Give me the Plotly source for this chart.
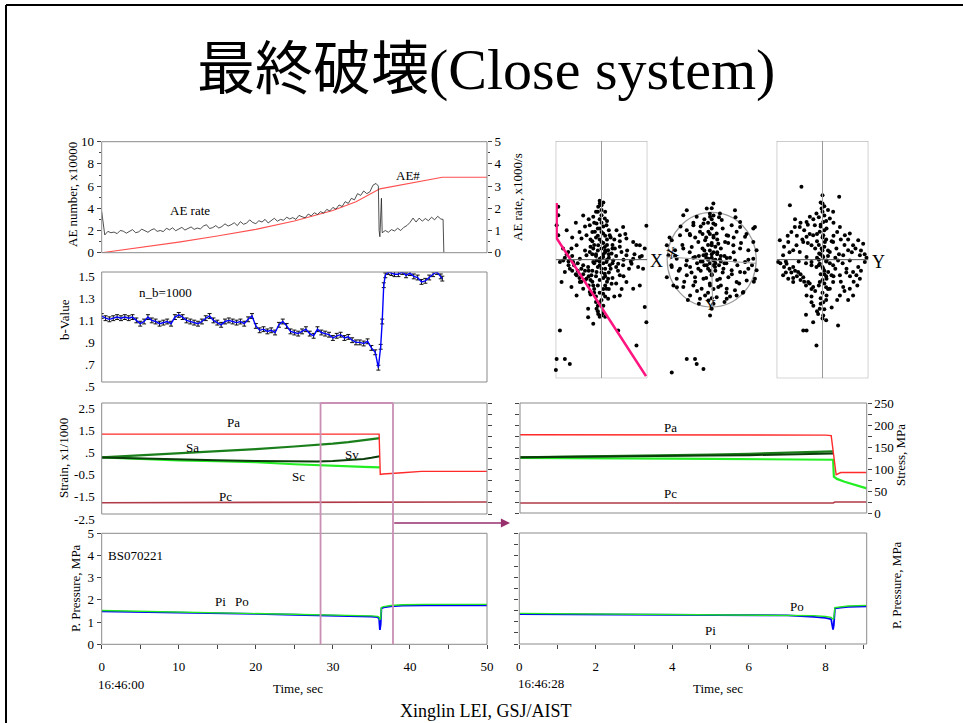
import plotly.graph_objects as go

W, H = 963, 723
SERIF = "Liberation Serif, Times New Roman, serif"
TITLE_FONT = "Liberation Serif, Noto Sans CJK JP, serif"


def px(x):
    return x / W


def py(y):
    return 1 - y / H


# ---------------- AE activity (time in s from 16:46:00) ----------------
ae_rate_grid = [round(0.4 * i, 1) for i in range(90)]
ae_rate_main = [
    1.85, 0.80, 0.96, 0.90, 0.93, 0.86, 1.00, 0.97, 0.88, 0.95,
    1.04, 0.90, 0.94, 1.06, 0.99, 0.92, 1.02, 1.08, 0.96, 1.00,
    0.95, 1.10, 1.03, 1.12, 0.99, 1.05, 1.14, 1.02, 1.08, 1.16,
    1.05, 1.11, 1.07, 1.20, 1.26, 1.09, 1.13, 1.22, 1.11, 1.18,
    1.30, 1.20, 1.26, 1.35, 1.22, 1.40, 1.28, 1.33, 1.48, 1.36,
    1.31, 1.44, 1.38, 1.50, 1.34, 1.46, 1.55, 1.42, 1.50, 1.46,
    1.60, 1.52, 1.58, 1.50, 1.68, 1.62, 1.57, 1.74, 1.66, 1.80,
    1.72, 1.85, 1.78, 1.95, 1.88, 2.04, 1.96, 2.15, 2.08, 2.30,
    2.22, 2.45, 2.38, 2.66, 2.58, 2.78, 2.66, 2.74, 3.04, 3.12,
]
ae_rate_tail_t = [35.9, 36.0, 36.1, 36.3, 36.4, 36.8, 37.2, 37.6, 38.0, 38.4,
                  38.8, 39.2, 39.6, 40.0, 40.4, 40.8, 41.2, 41.6, 42.0, 42.4,
                  42.8, 43.2, 43.6, 44.0, 44.3, 44.4]
ae_rate_tail = [3.00, 1.00, 0.72, 2.45, 0.90, 1.00, 0.92, 1.04, 0.98, 1.10,
                1.00, 1.14, 1.22, 1.36, 1.56, 1.38, 1.56, 1.42, 1.54, 1.44,
                1.60, 1.48, 1.64, 1.52, 1.50, 0.00]

ae_count_t = [0, 5, 10, 15, 20, 25, 30, 33, 35.5, 36.1, 44.2, 50]
ae_count = [0, 0.45, 0.95, 1.5, 2.1, 2.85, 3.8, 4.6, 5.55, 5.75, 6.8, 6.8]

# ---------------- b-value (n_b = 1000) ----------------
b_grid = [0.5 * i for i in range(72)]
b_main = [
    1.10, 1.08, 1.07, 1.08, 1.09, 1.08, 1.09, 1.08, 1.09, 1.06,
    1.03, 1.05, 1.09, 1.06, 1.05, 1.03, 1.04, 1.05, 1.03, 1.09,
    1.11, 1.09, 1.06, 1.05, 1.04, 1.03, 1.05, 1.08, 1.10, 1.06,
    1.04, 1.02, 1.05, 1.06, 1.05, 1.04, 1.05, 1.03, 1.07, 1.10,
    1.01, 0.97, 0.98, 0.96, 0.97, 0.95, 1.02, 1.05, 1.01, 0.96,
    0.95, 0.94, 0.96, 0.98, 0.94, 0.92, 0.98, 0.95, 0.94, 0.93,
    0.90, 0.92, 0.93, 0.90, 0.91, 0.88, 0.86, 0.86, 0.85, 0.87,
    0.81, 0.77,
]
b_tail_t = [35.9, 36.2, 36.4, 36.6, 36.8, 37.2, 37.6, 38.0, 38.5, 39.0,
            39.5, 40.0, 40.5, 41.0, 41.5, 42.0, 42.5, 43.0, 43.5, 44.0, 44.2]
b_tail = [0.63, 0.82, 1.05, 1.38, 1.47, 1.50, 1.49, 1.48, 1.48, 1.50,
          1.47, 1.49, 1.46, 1.45, 1.41, 1.42, 1.45, 1.48, 1.50, 1.46, 1.44]
B_ERR = 0.022

# ---------------- stresses (MPa) and strains (x1/1000), full record ----------------
pa_t = [0, 10, 20, 30, 36.0, 36.15, 36.5, 39.0, 41.5, 50]
pa = [180, 180, 180, 180, 180, 89, 90, 93, 96, 96]
pc_t = [0, 36.1, 36.3, 50]
pc = [25.5, 25.5, 27, 27]

strain_t = [0, 5, 10, 15, 20, 25, 28, 30, 32, 34, 35, 36.1]
sa = [0.05, 0.14, 0.22, 0.31, 0.42, 0.54, 0.61, 0.67, 0.74, 0.83, 0.88, 0.92]
sv = [0.05, 0.0, -0.05, -0.08, -0.11, -0.13, -0.13, -0.11, -0.07, -0.02, 0.03, 0.10]
sc = [0.05, -0.03, -0.08, -0.12, -0.17, -0.26, -0.31, -0.34, -0.36, -0.38, -0.39, -0.40]

# ---------------- pore pressure (MPa), full record ----------------
pp_t = [0, 5, 10, 15, 20, 25, 30, 33, 35, 35.8, 36.0, 36.1, 36.2, 36.3, 36.6,
        37.5, 39, 42, 45, 50]
pi_ = [1.48, 1.46, 1.43, 1.40, 1.37, 1.33, 1.30, 1.28, 1.25, 1.22, 1.15, 0.65,
       0.90, 1.62, 1.66, 1.71, 1.74, 1.76, 1.77, 1.76]
po = [1.52, 1.49, 1.46, 1.43, 1.40, 1.36, 1.33, 1.31, 1.28, 1.26, 1.22, 1.12,
      1.15, 1.66, 1.70, 1.75, 1.78, 1.80, 1.80, 1.80]

# ---------------- zoomed window (s from 16:46:28) ----------------
zpa_t = [0, 4, 8.0, 8.15, 8.28, 8.4, 9.08]
zpa = [178, 178, 177, 176, 87, 92, 92]
zpc_t = [0, 8.2, 8.25, 9.08]
zpc = [22.7, 22.7, 25, 25]

zs_t = [0, 1, 2, 3, 4, 5, 6, 7, 8, 8.2]
zsa = [0.03, 0.05, 0.07, 0.10, 0.12, 0.15, 0.19, 0.23, 0.29, 0.30]
zsv = [0.03, 0.04, 0.05, 0.07, 0.09, 0.11, 0.13, 0.15, 0.18, 0.20]
zsc_t = [0, 1, 2, 3, 4, 5, 6, 7, 8, 8.2, 8.22, 8.3, 8.5, 8.75, 9.08]
zsc = [0.0, 0.0, -0.01, -0.02, -0.03, -0.04, -0.05, -0.06, -0.08, -0.08,
       -0.85, -0.95, -1.08, -1.20, -1.38]

zpp_t = [0, 1, 2, 3, 4, 5, 6, 7, 7.7, 8.0, 8.15, 8.2, 8.22, 8.25, 8.4, 8.6, 9.08]
zpi = [1.35, 1.34, 1.33, 1.32, 1.31, 1.31, 1.30, 1.29, 1.22, 1.18, 1.12, 0.65,
       0.85, 1.60, 1.64, 1.67, 1.70]
zpo = [1.38, 1.37, 1.36, 1.35, 1.34, 1.34, 1.33, 1.32, 1.28, 1.24, 1.20, 1.12,
       1.15, 1.64, 1.68, 1.71, 1.74]

window_t = [28.4, 37.8]

# ---------------- AE hypocentres (mm): side view X, plan view, side view Y ----------------
side_x = [
    (-25.5, 39.6), (-28.5, 33.8), (-29.6, 19.6), (-29.1, 16.9), (-28.2, 13.3), (-27.3, -14),
    (-22.7, -38.5), (-24.5, -54), (-20, -54), (-17.3, -56.7), (-30, -61), (-24.9, -60),
    (-23.6, 28.7), (-23.6, 24.2), (-24.5, 18.7), (-25.5, 15.1), (-23.6, 13.3), (-26.4, 11.5),
    (-0.9, 30.5), (0, 29.6), (-1.8, 28.7), (-4.5, 23.3), (0, 24.2), (1.8, 22.4), (-2.7, 19.6),
    (-6.4, 18.7), (2.7, 18.7), (-0.9, 16.9), (-3.6, 15.1), (0.9, 14.2), (4.5, 13.3),
    (-8.2, 13.3), (-10.9, 11.5), (8.2, 16), (11.8, 17.8), (10, 13.3), (13.6, 11.5),
    (17.3, 9.6), (20.9, 7.8), (24.5, 18.4), (23.6, 6), (-13.6, 7.8), (-16.4, 6), (-18.2, 4.2),
    (-20.9, -0.4), (-22.7, -1.3), (-15.5, -1.3), (-11.8, 0.5), (-8.2, 2.4), (-6.4, 4.2),
    (-4.5, 6), (-1.8, 7.8), (0, 9.6), (1.8, 6.9), (3.6, 5.1), (5.5, 3.3), (7.3, 6),
    (10.9, 4.2), (13.6, 2.4), (17.3, 0.5), (20.9, 1.5), (-10, -3.1), (-7.3, -4), (-4.5, -1.3),
    (-2.7, -0.4), (-0.9, 0.5), (0.9, 1.5), (2.7, -1.3), (4.5, -3.1), (6.4, -0.4), (9.1, -2.2),
    (11.8, -3.1), (16.4, -2.2), (20, -4), (22.7, -4.9), (-17.3, -4.9), (-20, -6.7),
    (-13.6, -8.5), (-11.8, -12.2), (-8.2, -10.4), (-5.5, -8.5), (-2.7, -6.7), (0, -4.9),
    (1.8, -7.6), (3.6, -10.4), (5.5, -13.1), (2.7, -15.8), (0.9, -18.5), (3.6, -21.3),
    (-0.9, -23.1), (-2.7, -26.7), (-1.8, -29.5), (0, -30.4), (-6.4, -17.6), (-10, -15.8),
    (10, -8.5), (13.6, -12.2), (17.3, -15.8), (20.9, -14), (10, -19.5), (-4.5, -14),
    (-7.3, -26.7), (-16.4, -14.9), (23.6, -25.8), (24.5, -34), (19.1, -46.7), (9.1, -38.5),
    (-4.5, -34.9), (-7.3, -31.3), (-28.2, -2.2), (-26.4, -4), (-21.8, -12.2), (-13.6, -19.5),
    (-3, 3), (2, 4), (-1, -3), (4, 1), (-5, 10), (3, 11), (-2, 13), (6, 8), (-7, -6),
    (1, -10), (-4, -18), (5, -5), (-9, 5), (8, -4), (0, 20), (-2, 26), (2, -14), (-6, -11),
    # dense streak along the centre line
    (-1, 32), (1, 31), (0, 27), (-3, 26), (2, 26), (-1, 22), (3, 21), (-4, 20), (1, 18),
    (-2, 17), (4, 16), (-5, 15), (0, 15), (2, 13), (-3, 12), (5, 12), (-1, 11), (1, 9),
    (-4, 8), (3, 8), (-6, 7), (0, 6), (6, 6), (-2, 5), (2, 5), (-5, 3), (1, 3), (4, 3),
    (-3, 2), (0, 1), (3, 0), (-1, -1), (1, -2), (-4, -2), (6, -2), (-2, -4), (2, -5),
    (-5, -6), (0, -7), (4, -7), (-3, -9), (2, -9), (-1, -11), (3, -12), (-2, -14), (1, -16),
    (4, -16), (-1, -18), (2, -20), (0, -22), (-3, -23), (1, -25), (-2, -28), (1, -29),
    (-1, -31), (2, -31),
    # band along the fault trace
    (-21, 6), (-19, 3), (-20, 1), (-18, -1), (-16, 2), (-15, -3), (-13, -2), (-13, -6),
    (-11, -5), (-10, -8), (-9, -11), (-7, -9), (-7, -14), (-5, -12), (-4, -16), (-6, -19),
    (-3, -20), (-2, -25), (-12, -10), (-16, -6), (-18, -3), (-9, -6), (-11, -12), (-14, -8),
    # scatter to the right of the centre line
    (8, 2), (10, 7), (12, 0), (14, 5), (16, -1), (18, 3), (19, 8), (22, 2), (9, -6),
    (12, -9), (15, -5), (7, 11), (10, 10), (13, 14), (6, -10), (8, -13), (11, -16), (7, -20),
    (-12, 15), (-9, 18), (-14, 20), (-7, 22), (-10, 24), (-16, 12), (-19, 16), (-6, 11),
]
plan = [
    (-13.6, 26.9), (-2.7, 27.8), (0.9, 30.5), (12.7, 26.9), (-8.2, 23.3), (-0.9, 23.3),
    (4.5, 25.1), (-13.6, 16), (-10, 18.7), (-4.5, 19.6), (0.9, 19.6), (5.5, 21.5),
    (10.9, 18.7), (15.5, 20.5), (23.6, 17.8), (-17.3, 13.3), (-11.8, 13.3), (-6.4, 15.1),
    (-1.8, 15.1), (2.7, 14.2), (8.2, 13.3), (13.6, 15.1), (18.2, 12.4), (22.7, 9.6),
    (26.4, 11.5), (30, 7.8), (-21.8, 10.5), (-24.5, 7.8), (-20, 5.1), (-15.5, 6),
    (-10.9, 6.9), (-7.3, 9.6), (-3.6, 10.5), (0, 7.8), (3.6, 8.7), (7.3, 9.6), (11.8, 7.8),
    (15.5, 6), (20, 5.1), (24.5, 5.1), (31.8, 5.1), (-23.6, 2.4), (-19.1, 0.5), (-13.6, -0.4),
    (-9.1, 1.5), (-4.5, 2.4), (-1.8, 0.5), (0.9, -0.4), (4.5, 0.2), (8.2, 0.9), (12.7, -0.4),
    (18.2, -1.3), (22.7, 0.5), (27.3, -2.2), (-21.8, -4), (-17.3, -4.9), (-11.8, -4),
    (-7.3, -4.9), (-2.7, -3.1), (1.8, -4), (6.4, -4.9), (10.9, -5.8), (15.5, -6.7), (20, -4.9),
    (24.5, -5.8), (-24.5, -9.5), (-19.1, -10.4), (-13.6, -8.5), (-9.1, -9.5), (-4.5, -10.4),
    (0, -8.5), (4.5, -10.4), (9.1, -9.5), (13.6, -12.2), (19.1, -11.3), (23.6, -10.4),
    (-20.9, -14), (-15.5, -14.9), (-10, -14), (-5.5, -15.8), (-0.9, -14), (3.6, -14.9),
    (8.2, -15.8), (12.7, -16.7), (17.3, -17.6), (-11.8, -19.5), (-6.4, -21.3), (-1.8, -22.2),
    (2.7, -20.4), (8.2, -21.3), (13.6, -19.5), (0, -26.7), (-0.9, -30.4), (-13.6, -54),
    (-9.1, -54), (-8.2, -56.7), (-4.5, -59.5), (-21.8, -61.3), (-3.6, -19.5), (-15.5, 24.2),
    (15.5, 17.8), (22.7, 16.9), (0, 3), (-3, 1), (2, -2), (5, 2), (-6, -1), (3, 4), (-1, -6),
    (7, -2), (-4, 5), (1, 12),
    # dense core and the northward streak
    (0, 28), (-1, 25), (1, 24), (0, 22), (-2, 20), (2, 19), (0, 17), (-1, 14), (1, 13),
    (-3, 12), (3, 11), (0, 9), (-2, 8), (2, 7), (-5, 6), (5, 6), (-1, 5), (1, 4), (-3, 3),
    (3, 3), (-7, 2), (7, 2), (0, 1), (-2, 0), (2, 0), (-5, -1), (5, -1), (-1, -2), (1, -3),
    (-4, -3), (4, -3), (-8, -2), (8, -2), (-10, 1), (10, 1), (-2, -5), (2, -6), (-6, -6),
    (6, -7), (0, -8), (-3, -10), (3, -11), (-1, -13), (1, -16), (-2, -18), (0, -21), (1, -24),
    (-12, 4), (12, 4), (-14, -3), (14, -3), (-11, -7), (11, -8), (-16, 8), (16, 9), (-9, 12),
    (9, 13), (-18, -6), (18, -7), (-6, 18), (6, 17), (-20, 2), (20, 0), (-15, -12), (15, -13),
    (-8, -17), (8, -18), (-4, 22), (4, 23), (-22, -3), (22, -3), (-12, 14), (12, 12),
    (-17, 18), (17, -18), (-7, -24), (7, -23), (19, 14), (-19, -15), (-10, 20), (10, -20),
    (13, 23), (-13, -22), (-23, 12), (23, -12), (5, -14), (-5, 14), (-9, -12), (9, 9),
]
side_y = [
    (-11.5, 39.6), (9.1, 34.2), (-17.8, 29.6), (0, 30.5), (-0.5, 27.8), (-3.3, 25.1),
    (-6.9, 23.3), (-8.7, 20.5), (-12.4, 17.8), (-15.1, 17.8), (0.4, 20.5), (2.2, 16.9),
    (-1.5, 15.1), (-5.1, 13.3), (-8.7, 12.4), (-10.5, 9.6), (-14.2, 7.8), (-18.7, 9.6),
    (-23.3, 10.5), (-25.1, 6), (-21.5, 2.4), (-24.2, -1.3), (-19.6, -2.2), (-16, -4),
    (-13.3, -6.7), (-10.5, -9.5), (-7.8, -12.2), (-5.1, -14.9), (-16, -12.2), (-18.7, -10.4),
    (-21.5, -8.5), (0.4, 13.3), (1.3, 9.6), (-0.5, 6), (-1.8, 3.3), (0.4, 1.5), (2.2, -0.4),
    (-1.5, -2.2), (-3.3, -4), (0.4, -4.9), (3.1, -6.7), (5.8, -3.1), (8.5, -0.4), (11.3, 2.4),
    (14, 5.1), (16.7, 7.8), (19.5, 10.5), (22.2, 8.7), (25.8, 7.8), (14.9, 14.2), (9.5, 17.8),
    (12.2, 13.3), (5.8, 9.6), (7.6, 6), (4, 4.2), (20.4, 2.4), (23.1, -1.3), (19.5, -4),
    (16.7, -6.7), (13.1, -4.9), (9.5, -8.5), (5.8, -12.2), (4, -15.8), (2.2, -19.5),
    (0.4, -23.1), (-1.5, -26.7), (-2.4, -29.5), (0.4, -30.4), (-5.1, -34), (-8.7, -38.5),
    (-10.5, -38.5), (-3.3, -46.7), (8.5, -35.8), (16.7, -19.5), (14.9, -15.8), (11.3, -14.9),
    (9.5, -19.5), (20.4, -10.4), (-8.7, -19.5), (-6, -23.1), (4, 22.4), (5.8, 26),
    (-4.2, 18.7), (-6, 7.8), (-12.4, 4.2), (-16, 5.1), (-8.7, 1.5), (-6, -1.3), (14.9, -0.4),
    (18.5, -8.5), (2.2, -10.4), (4.9, -8.5), (-1.5, -12.2), (26.7, 7.8), (0, 5), (-2, 0),
    (1, -8), (3, 2), (-3, 10), (2, -15), (-1, 18), (1, 24),
    # dense streak along the centre line
    (0, 35), (-1, 31), (1, 29), (0, 26), (-2, 23), (2, 21), (-1, 19), (1, 16), (-3, 14),
    (0, 12), (2, 11), (-2, 8), (1, 7), (3, 5), (-1, 3), (0, 2), (-3, 1), (2, -1), (4, -2),
    (-2, -3), (0, -4), (1, -6), (-1, -8), (2, -9), (0, -11), (-2, -14), (1, -13), (3, -16),
    (0, -18), (-1, -21), (2, -22), (-1, -24), (1, -27), (-3, -28), (0, -32), (2, -33),
    # lower-left band
    (-23, -2), (-21, -4), (-20, -1), (-18, -5), (-17, -7), (-15, -6), (-14, -9), (-12, -8),
    (-12, -11), (-10, -12), (-9, -14), (-7, -13), (-6, -16), (-4, -17), (-20, -7), (-16, -10),
    # upper-left streak
    (-19, 13), (-17, 15), (-14, 13), (-12, 20), (-10, 16), (-8, 19), (-11, 11), (-7, 14),
    (-5, 22), (-15, 22), (-21, 7), (-18, 4),
    # right-hand scatter
    (6, 13), (8, 15), (10, 11), (12, 8), (14, 11), (16, 4), (18, 6), (21, 5), (23, 3),
    (9, 3), (11, -2), (13, -7), (15, -9), (17, -12), (19, -14), (7, -5), (6, -9), (10, -12),
    (12, -17), (8, -22), (5, -26), (14, -22), (21, -6), (24, 1), (6, 20), (3, 27), (-6, -3),
    (-9, -2), (-13, -1), (-4, 6), (-8, 9), (7, 1), (5, 10), (-6, -20), (-5, -25), (-9, -30),
]
fault_trace = [(-24.5, 30.8), (-24.5, 11.7), (24.3, -63.3)]

# ---------------- colours ----------------
RED = "#ff2a2a"
PC_RED = "#b03a48"
SA_GREEN = "#1a7f1a"
SV_GREEN = "#0b3d0b"
SC_GREEN = "#22ee22"
BLUE = "#0000ff"
PO_GREEN = "#22e622"
FRAME = "#8a8a8a"
WINDOW = "#c98fb5"

fig = go.Figure()


def line(x, y, xa, ya, color, width=1.0):
    fig.add_trace(go.Scatter(x=x, y=y, xaxis=xa, yaxis=ya, mode="lines",
                             line=dict(color=color, width=width), showlegend=False,
                             hoverinfo="skip"))


# AE panel
line(ae_count_t, ae_count, "x", "y", "#ff5050", 1.1)
line(ae_rate_grid + ae_rate_tail_t, ae_rate_main + ae_rate_tail, "x", "y2", "#222222", 0.8)

# b-value panel
b_t = b_grid + b_tail_t
b_v = b_main + b_tail
fig.add_trace(go.Scatter(x=b_t, y=b_v, xaxis="x2", yaxis="y3", mode="lines",
                         line=dict(color=BLUE, width=1.4), showlegend=False,
                         error_y=dict(type="constant", value=B_ERR, color="#111111",
                                      thickness=1, width=2)))

# strain / stress, full record
line(pa_t, pa, "x3", "y5", RED, 1.4)
line(pc_t, pc, "x3", "y5", PC_RED, 1.6)
line(strain_t, sc, "x3", "y4", SC_GREEN, 2.2)
line(strain_t, sa, "x3", "y4", SA_GREEN, 2.2)
line(strain_t, sv, "x3", "y4", SV_GREEN, 2.0)

# pore pressure, full record
line(pp_t, pi_, "x4", "y6", BLUE, 1.8)
line(pp_t, po, "x4", "y6", PO_GREEN, 1.4)

# strain / stress, zoomed window
line(zpa_t, zpa, "x5", "y9", RED, 1.4)
line(zpc_t, zpc, "x5", "y9", PC_RED, 1.6)
line(zsc_t, zsc, "x5", "y8", SC_GREEN, 2.2)
line(zs_t, zsa, "x5", "y8", SA_GREEN, 2.2)
line(zs_t, zsv, "x5", "y8", SV_GREEN, 2.0)

# pore pressure, zoomed window
line(zpp_t, zpi, "x6", "y10", BLUE, 1.8)
line(zpp_t, zpo, "x6", "y10", PO_GREEN, 1.4)

# hypocentre projections
for pts, xa, ya in [(side_x, "x7", "y12"), (plan, "x8", "y13"), (side_y, "x9", "y14")]:
    fig.add_trace(go.Scatter(x=[p[0] for p in pts], y=[p[1] for p in pts], xaxis=xa, yaxis=ya,
                             mode="markers", marker=dict(color="black", size=4),
                             cliponaxis=False, showlegend=False, hoverinfo="skip"))
fig.add_trace(go.Scatter(x=[p[0] for p in fault_trace], y=[p[1] for p in fault_trace],
                         xaxis="x7", yaxis="y12", mode="lines", cliponaxis=False,
                         line=dict(color="#ff1480", width=2.6), showlegend=False))

# ---------------- axes ----------------
TF = dict(family=SERIF, size=13, color="black")
base = dict(showgrid=False, zeroline=False, showline=False, tickfont=TF,
            tickcolor="#444", ticklen=4, tickwidth=1, automargin=False)

L_X = [px(101.7), px(487)]
R_X = [px(520), px(866.7)]

hidden = dict(visible=False, showgrid=False, zeroline=False, automargin=False)

layout_axes = dict(
    xaxis=dict(hidden, domain=L_X, range=[0, 50], anchor="y"),
    yaxis=dict(base, domain=[py(252.7), py(141.7)], range=[0, 10], anchor="x",
               tickmode="linear", tick0=0, dtick=2, ticks="outside",
               minor=dict(ticks="outside", dtick=1, ticklen=2, tickcolor="#444")),
    yaxis2=dict(base, overlaying="y", side="right", range=[0, 5], anchor="x",
                tickmode="linear", tick0=0, dtick=1, ticks="outside",
                minor=dict(ticks="outside", dtick=0.5, ticklen=2, tickcolor="#444")),
    xaxis2=dict(hidden, domain=L_X, range=[0, 50], anchor="y3"),
    yaxis3=dict(base, domain=[py(382), py(272)], range=[0.5, 1.5], anchor="x2",
                tickvals=[0.5, 0.7, 0.9, 1.1, 1.3, 1.5],
                ticktext=[".5", ".7", ".9", "1.1", "1.3", "1.5"],
                ticks="", ticklabelstandoff=6, ticklabelshift=4),
    xaxis3=dict(hidden, domain=L_X, range=[0, 50], anchor="y4"),
    yaxis4=dict(base, domain=[py(514), py(403)], range=[-2.5, 2.5], anchor="x3",
                tickvals=[-2.5, -1.5, -0.5, 0.5, 1.5, 2.5],
                ticktext=["-2.5", "-1.5", "-0.5", ".5", "1.5", "2.5"],
                ticks="", ticklabelstandoff=6, ticklabelshift=5),
    yaxis5=dict(base, overlaying="y4", side="right", range=[0, 250], anchor="x3",
                tickmode="linear", tick0=0, dtick=25, ticks="outside", showticklabels=False),
    xaxis4=dict(base, domain=L_X, range=[0, 50], anchor="y6", tickmode="linear",
                tick0=0, dtick=10, ticks="outside", ticklabelstandoff=6,
                minor=dict(ticks="outside", dtick=5, ticklen=4, tickcolor="#444")),
    yaxis6=dict(base, domain=[py(644.3), py(533.3)], range=[0, 5], anchor="x4",
                tickmode="linear", tick0=0, dtick=1, ticks="outside"),
    yaxis7=dict(base, overlaying="y6", side="right", range=[0, 5], anchor="x4",
                tickmode="linear", tick0=0, dtick=0.5, ticks="outside", showticklabels=False),
    xaxis5=dict(hidden, domain=R_X, range=[0, 9.08], anchor="y8"),
    yaxis8=dict(base, domain=[py(513), py(403)], range=[-2.5, 2.5], anchor="x5",
                tickmode="linear", tick0=-2.5, dtick=0.5, ticks="outside", showticklabels=False),
    yaxis9=dict(base, overlaying="y8", side="right", range=[0, 250], anchor="x5",
                tickmode="linear", tick0=0, dtick=50, ticks="outside",
                minor=dict(ticks="outside", dtick=25, ticklen=4, tickcolor="#444")),
    xaxis6=dict(base, domain=[px(519.3), px(866.7)], range=[0, 9.08], anchor="y10",
                tickvals=[0, 2, 4, 6, 8], ticks="outside", ticklabelstandoff=6,
                minor=dict(ticks="outside", dtick=1, ticklen=4, tickcolor="#444")),
    yaxis10=dict(base, domain=[py(644), py(533)], range=[0, 5], anchor="x6",
                 tickmode="linear", tick0=0, dtick=0.5, ticks="outside", showticklabels=False),
    yaxis11=dict(base, overlaying="y10", side="right", range=[0, 5], anchor="x6",
                 tickmode="linear", tick0=0, dtick=1, ticks="outside",
                 minor=dict(ticks="outside", dtick=0.5, ticklen=2, tickcolor="#444")),
    xaxis7=dict(hidden, domain=[px(555.7), px(647.3)], range=[-25, 25], anchor="y12"),
    yaxis12=dict(hidden, domain=[py(378.3), py(141)], range=[-64.5, 64.5], anchor="x7"),
    xaxis8=dict(hidden, domain=[px(665.9), px(757.5)], range=[-25, 25], anchor="y13"),
    yaxis13=dict(hidden, domain=[py(378.3), py(141)], range=[-64.5, 64.5], anchor="x8"),
    xaxis9=dict(hidden, domain=[px(776.7), px(868.3)], range=[-25, 25], anchor="y14"),
    yaxis14=dict(hidden, domain=[py(378.3), py(141)], range=[-64.5, 64.5], anchor="x9"),
)

# ---------------- frames and guide lines ----------------
shapes = []


def rect(x0, y0, x1, y1, color=FRAME, width=1):
    shapes.append(dict(type="rect", xref="paper", yref="paper", x0=px(x0), x1=px(x1),
                       y0=py(y1), y1=py(y0), line=dict(color=color, width=width),
                       fillcolor="rgba(0,0,0,0)", layer="above"))


def seg(x0, y0, x1, y1, color, width=1, xref="paper", yref="paper"):
    shapes.append(dict(type="line", xref=xref, yref=yref, x0=x0, x1=x1, y0=y0, y1=y1,
                       line=dict(color=color, width=width), layer="above"))


# slide border
seg(px(6), py(5), 1, py(5), "black", 2)
seg(px(6), py(5), px(6), 0, "black", 2)

rect(101.7, 141.7, 487, 252.7)
rect(101.7, 272, 487, 382)
rect(101.7, 403, 487, 514)
rect(101.7, 533.3, 487, 644.3)
rect(520, 403, 866.7, 513)
rect(519.3, 533, 866.7, 644)

# highlighted time window carried over to the right-hand panels
for t in window_t:
    seg(t, py(403), t, py(644.3), WINDOW, 1.8, xref="x4")
seg(window_t[0], py(403), window_t[1], py(403), WINDOW, 2, xref="x4")

# hypocentre frames
GUIDE = "#9a9a9a"
for xa, ya in [("x7", "y12"), ("x9", "y14")]:
    shapes.append(dict(type="rect", xref=xa, yref=ya, x0=-25, x1=25, y0=-64.5, y1=64.5,
                       line=dict(color=GUIDE, width=1), layer="below"))
    seg(0, -64.5, 0, 64.5, GUIDE, 1, xref=xa, yref=ya)
    seg(-25, 0, 25, 0, "#555", 1, xref=xa, yref=ya)
shapes.append(dict(type="circle", xref="x8", yref="y13", x0=-24.3, x1=24.3, y0=-25.7, y1=25.7,
                   line=dict(color=GUIDE, width=1.2), layer="below"))
seg(-24.3, 1.5, 24.3, -2.0, GUIDE, 1, xref="x8", yref="y13")
seg(0, 0, 0.5, -25.7, GUIDE, 1, xref="x8", yref="y13")

# ---------------- text ----------------
ann = []


def text(x, y, s, size=13, angle=0, xanchor="center", yanchor="middle", color="black",
         family=SERIF):
    ann.append(dict(x=px(x), y=py(y), xref="paper", yref="paper", text=s, showarrow=False,
                    textangle=angle, xanchor=xanchor, yanchor=yanchor,
                    font=dict(family=family, size=size, color=color)))


text(486, 69, "最終破壊(Close system)", size=58, family=TITLE_FONT)
text(486, 711, "Xinglin LEI, GSJ/AIST", size=18)

text(73, 195, "AE number, x10000", angle=-90)
text(518, 197, "AE rate, x1000/s", angle=-90)
text(190, 210, "AE rate")
text(408, 175, "AE#")

text(64, 320, "b-Value", angle=-90)
text(165, 292, "n_b=1000")

text(63, 458, "Strain, x1/1000", angle=-90)
text(233, 422, "Pa")
text(192, 447, "Sa")
text(352, 454, "Sv")
text(298, 476, "Sc")
text(225, 496, "Pc")

text(670, 427, "Pa")
text(670, 493, "Pc")
text(900, 455, "Stress, MPa", angle=-90)

text(75, 588, "P. Pressure, MPa", angle=-90)
text(135, 555, "BS070221")
text(220, 601, "Pi")
text(242, 601, "Po")
text(797, 606, "Po")
text(710, 630, "Pi")
text(896, 585, "P. Pressure, MPa", angle=-90)

text(120.5, 684, "16:46:00")
text(298, 688, "Time, sec")
text(541, 683, "16:46:28")
text(718, 688, "Time, sec")

text(656.7, 261, "X", size=18)
text(672, 253, "X", size=15, angle=-25)
text(710.5, 305, "Y", size=15)
text(878, 262, "Y", size=18)

# arrow linking the window to the zoomed panels
ann.append(dict(x=px(510), y=py(523), xref="paper", yref="paper",
                axref="pixel", ayref="pixel", ax=-(510 - 392.7), ay=0,
                text="", showarrow=True, arrowhead=2,
                arrowsize=1.4, arrowwidth=1.3, arrowcolor="#97306d"))

fig.update_layout(
    width=W, height=H, autosize=False,
    margin=dict(l=0, r=0, t=0, b=0, pad=0, autoexpand=False),
    paper_bgcolor="white", plot_bgcolor="white", showlegend=False,
    shapes=shapes, annotations=ann, **layout_axes,
)

fig.write_html("out.html")
